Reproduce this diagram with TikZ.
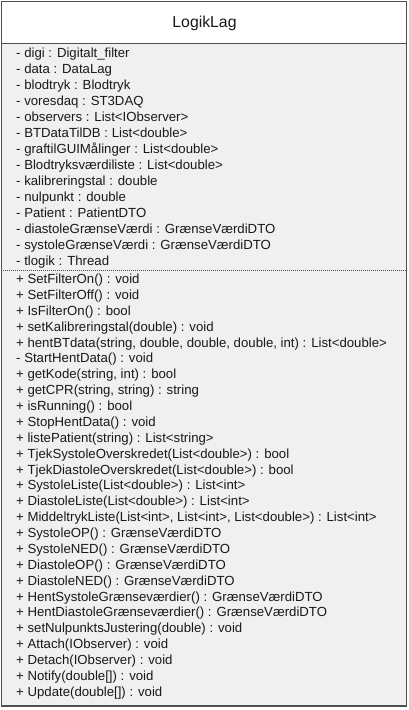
\documentclass[tikz,border=0pt]{standalone}
\usepackage{fontspec}
\setmainfont{Liberation Sans}
\definecolor{bordercol}{RGB}{80,80,80}
\definecolor{bodyfill}{RGB}{240,240,240}
\definecolor{textcol}{RGB}{25,25,25}
\tikzset{
  classbox/.style={draw=bordercol, line width=1.4pt},
  headbox/.style={fill=white},
  bodybox/.style={fill=bodyfill},
  sepline/.style={draw=bordercol, line width=0.8pt},
  dotsep/.style={draw=bordercol, line width=0.8pt, dash pattern=on 1pt off 1pt},
  member/.style={anchor=base west, inner sep=0pt, text=textcol, font=\fontsize{13.2}{15}\selectfont},
  titletext/.style={anchor=base, inner sep=0pt, text=textcol, font=\fontsize{15.8}{18}\selectfont}
}
\begin{document}
\begin{tikzpicture}[x=1pt,y=-1pt]
\useasboundingbox (0,0) rectangle (409,710);
\fill[headbox] (1.5,1.5) rectangle (406.5,43);
\fill[bodybox] (1.5,43) rectangle (406.5,706);
\draw[sepline] (1.5,43) -- (406.5,43);
\draw[dotsep] (2.5,270) -- (405.5,270);
\draw[classbox] (1.5,1.5) rectangle (406.5,706);
\node[titletext] (title) at (204.5,27.5) {LogikLag};
\foreach [count=\i from 0] \t in {
  {- digi : Digitalt\_filter},
  {- data : DataLag},
  {- blodtryk : Blodtryk},
  {- voresdaq : ST3DAQ},
  {- observers : List<IObserver>},
  {- BTDataTilDB : List<double>},
  {- graftilGUIMålinger : List<double>},
  {- Blodtryksværdiliste : List<double>},
  {- kalibreringstal : double},
  {- nulpunkt : double},
  {- Patient : PatientDTO},
  {- diastoleGrænseVærdi : GrænseVærdiDTO},
  {- systoleGrænseVærdi : GrænseVærdiDTO},
  {- tlogik : Thread}}
  \node[member] (a\i) at (16,57+16*\i) {\t};
\foreach [count=\i from 0] \t in {
  {+ SetFilterOn() : void},
  {+ SetFilterOff() : void},
  {+ IsFilterOn() : bool},
  {+ setKalibreringstal(double) : void},
  {+ hentBTdata(string, double, double, double, int) : List<double>},
  {- StartHentData() : void},
  {+ getKode(string, int) : bool},
  {+ getCPR(string, string) : string},
  {+ isRunning() : bool},
  {+ StopHentData() : void},
  {+ listePatient(string) : List<string>},
  {+ TjekSystoleOverskredet(List<double>) : bool},
  {+ TjekDiastoleOverskredet(List<double>) : bool},
  {+ SystoleListe(List<double>) : List<int>},
  {+ DiastoleListe(List<double>) : List<int>},
  {+ MiddeltrykListe(List<int>, List<int>, List<double>) : List<int>},
  {+ SystoleOP() : GrænseVærdiDTO},
  {+ SystoleNED() : GrænseVærdiDTO},
  {+ DiastoleOP() : GrænseVærdiDTO},
  {+ DiastoleNED() : GrænseVærdiDTO},
  {+ HentSystoleGrænseværdier() : GrænseVærdiDTO},
  {+ HentDiastoleGrænseværdier() : GrænseVærdiDTO},
  {+ setNulpunktsJustering(double) : void},
  {+ Attach(IObserver) : void},
  {+ Detach(IObserver) : void},
  {+ Notify(double[]) : void},
  {+ Update(double[]) : void}}
  \node[member] (m\i) at (16,283.5+15.88*\i) {\t};
\end{tikzpicture}
\end{document}
